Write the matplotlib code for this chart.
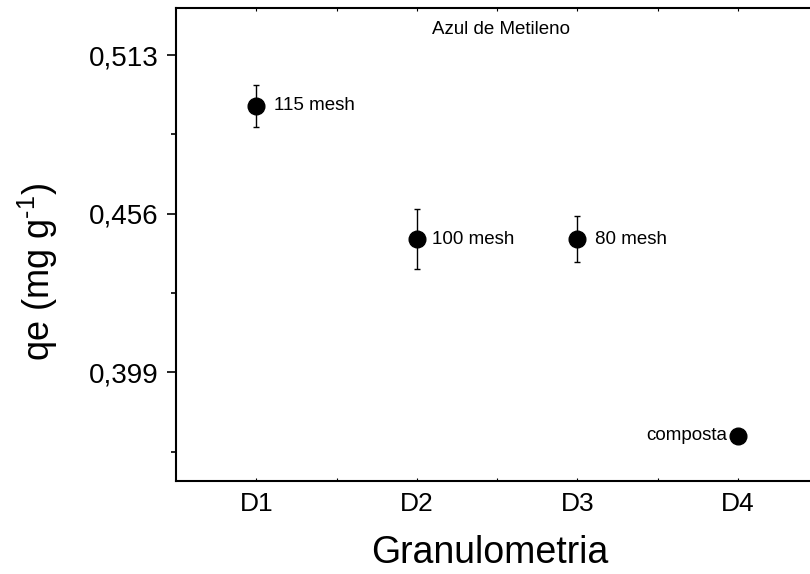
import matplotlib
matplotlib.use("Agg")
import matplotlib.pyplot as plt
from matplotlib.ticker import FixedLocator, FuncFormatter

plt.rcParams['font.family'] = ['Liberation Sans', 'DejaVu Sans']
plt.rcParams['mathtext.fontset'] = 'custom'
plt.rcParams['mathtext.rm'] = 'Liberation Sans'
plt.rcParams['mathtext.it'] = 'Liberation Sans'

categories = ['D1', 'D2', 'D3', 'D4']
qe = [0.4947, 0.4468, 0.4468, 0.3761]
qe_err = [0.0076, 0.0108, 0.0082, 0.0]
point_labels = ['115 mesh', '100 mesh', '80 mesh', 'composta']
yticks_major = [0.399, 0.456, 0.513]
yticks_minor = [0.3705, 0.4275, 0.4845]
title_text = 'Azul de Metileno'

fig = plt.figure(figsize=(8.1, 5.74), dpi=100)
ax = fig.add_axes([176/810, 1-481/574, (818.3-176)/810, (481-8)/574])

x = list(range(1, len(categories)+1))
for xi, yi, ei in zip(x, qe, qe_err):
    if ei > 0:
        ax.errorbar(xi, yi, yerr=ei, fmt='o', color='black', ms=12,
                    elinewidth=1, capsize=2.5, capthick=1, zorder=3)
    else:
        ax.plot(xi, yi, 'o', color='black', ms=12, zorder=3)

offsets = [(13, 0), (11, 0), (13, 0), (-8, 0)]
aligns = ['left', 'left', 'left', 'right']
for xi, yi, lab, off, ha in zip(x, qe, point_labels, offsets, aligns):
    ax.annotate(lab, (xi, yi), xytext=off, textcoords='offset points',
                ha=ha, va='center', fontsize=13.5)

ax.set_xlim(0.5, 4.5)
ax.set_ylim(0.3599, 0.5299)

ax.xaxis.set_major_locator(FixedLocator(x))
ax.xaxis.set_minor_locator(FixedLocator([1.5, 2.5, 3.5]))
ax.set_xticklabels(categories)
ax.yaxis.set_major_locator(FixedLocator(yticks_major))
ax.yaxis.set_minor_locator(FixedLocator(yticks_minor))
ax.yaxis.set_major_formatter(FuncFormatter(lambda v, p: f"{v:.3f}".replace('.', ',')))

ax.tick_params(axis='x', which='both', direction='in', top=True, bottom=True,
               length=2.5, width=0.8, labelsize=19, pad=8)
ax.tick_params(axis='y', which='major', direction='out', length=6.5, width=1.2,
               labelsize=20, pad=6)
ax.tick_params(axis='y', which='minor', direction='out', length=3.5, width=1.2)

for s in ax.spines.values():
    s.set_linewidth(1.5)

ax.set_xlabel('Granulometria', fontsize=27)
ax.xaxis.label.set_va('baseline')
ax.xaxis.set_label_coords(0.4889, -0.1734)

ax.set_ylabel(r'qe (mg g$^{\text{-1}}$)', fontsize=26)
ax.yaxis.label.set_va('center')
ax.yaxis.set_label_coords(-0.2156, 0.4429)

fig.text(0.6185, 1 - 34/574, title_text, ha='center', va='baseline', fontsize=13.5)

fig.savefig('out.png', dpi=100)
